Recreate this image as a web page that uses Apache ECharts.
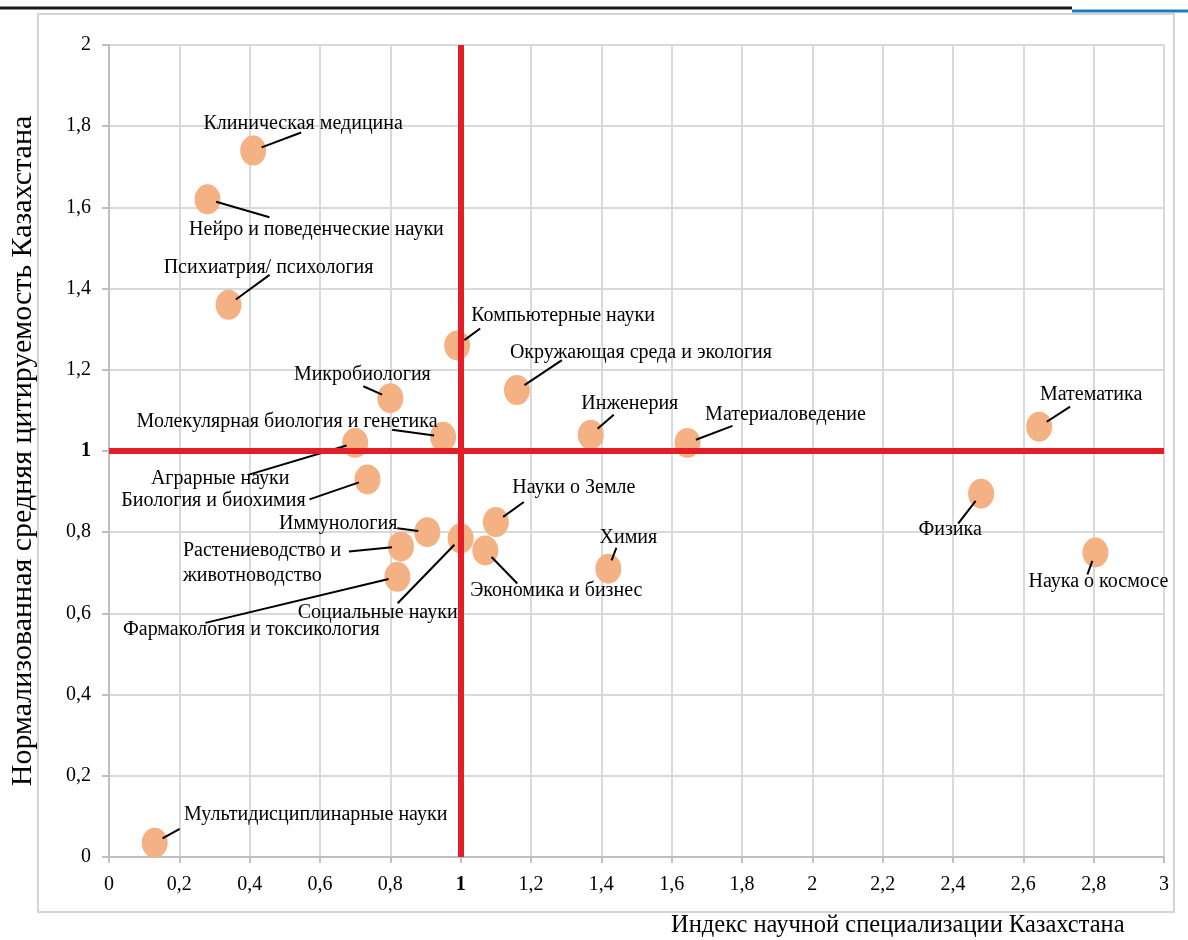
<!DOCTYPE html>
<html>
<head>
<meta charset="utf-8">
<script src="https://cdn.jsdelivr.net/npm/echarts@6/dist/echarts.min.js"></script>
<style>
html,body{margin:0;padding:0;background:#fff;}
#chart{width:1188px;height:940px;}
</style>
</head>
<body>
<div id="chart"></div>
<script>
const categories = [
  'Клиническая медицина',
  'Нейро и поведенческие науки',
  'Психиатрия/ психология',
  'Компьютерные науки',
  'Окружающая среда и экология',
  'Микробиология',
  'Молекулярная биология и генетика',
  'Аграрные науки',
  'Биология и биохимия',
  'Инженерия',
  'Материаловедение',
  'Математика',
  'Физика',
  'Наука о космосе',
  'Иммунология',
  'Растениеводство и\nживотноводство',
  'Фармакология и токсикология',
  'Социальные науки',
  'Науки о Земле',
  'Экономика и бизнес',
  'Химия',
  'Мультидисциплинарные науки'
];
const specializationIndex = [0.41, 0.28, 0.34, 0.99, 1.16, 0.80, 0.95, 0.70, 0.735, 1.37, 1.645, 2.645, 2.48, 2.805, 0.905, 0.83, 0.82, 1.0, 1.10, 1.07, 1.42, 0.13];
const normalizedCitation = [1.74, 1.62, 1.36, 1.26, 1.15, 1.13, 1.035, 1.02, 0.93, 1.04, 1.02, 1.06, 0.895, 0.75, 0.80, 0.765, 0.69, 0.785, 0.825, 0.755, 0.71, 0.035];
const referenceX = 1;
const referenceY = 1;

// layout only: pixel offsets from point centre to label anchor, and to leader-line end
const labelOffsets = [
  [50, -27], [109, 30], [40, -37], [106, -30], [124, -37], [-28, -23], [-156, -15],
  [-135, 36], [-154, 21], [39, -31], [98, -28], [52, -32], [-31, 36], [3, 29],
  [-89, -8], [-218, 17], [-146, 53], [-83, 74], [78, -34], [71, 40], [20, -31], [161, -28]
];
const labelAligns = ['center','center','center','center','center','center','center',
  'center','center','center','center','center','center','center',
  'center','left','center','center','center','center','center','center'];
const leaderEnds = [
  [48, -18], [62, 18], [41, -30], [23, -17], [45, -30], [-27, -12], [-51, -7],
  [-107, 32], [-58, 20], [23, -20], [45, -17], [31, -20], [-23, 30], [-8, 22],
  [-30, -4], [-52, 5], [-192, 46], [-63, 65], [28, -20], [32, 33], [8, -21], [25, -14]
];

const FONT = 'Liberation Serif';
const fmt = v => {
  if (Math.abs(v - 1) < 1e-9) return '{b|1}';
  return String(+v.toFixed(1)).replace('.', ',');
};
const points = categories.map((n, i) => ({name: n, value: [specializationIndex[i], normalizedCitation[i]]}));

const chart = echarts.init(document.getElementById('chart'), null, {renderer: 'canvas'});
chart.setOption({
  backgroundColor: '#ffffff',
  animation: false,
  grid: {left: 108, right: 24, top: 45, bottom: 83, containLabel: false},
  xAxis: {
    type: 'value', min: 0, max: 3, interval: 0.2,
    axisLine: {show: true, onZero: false, lineStyle: {color: '#BFBFBF', width: 2}},
    axisTick: {show: true, length: 6, inside: false, lineStyle: {color: '#BFBFBF', width: 2}},
    splitLine: {show: true, lineStyle: {color: '#D9D9D9', width: 2}},
    axisLabel: {
      formatter: fmt, margin: 18, color: '#000', fontFamily: FONT, fontSize: 20,
      rich: {b: {fontWeight: 'bold', fontFamily: FONT, fontSize: 20, color: '#000'}}
    }
  },
  yAxis: {
    type: 'value', min: 0, max: 2, interval: 0.2,
    name: 'Нормализованная средняя цитируемость Казахстана',
    nameLocation: 'middle', nameGap: 71, nameRotate: 90,
    nameTextStyle: {fontFamily: FONT, fontSize: 30, color: '#000'},
    axisLine: {show: true, onZero: false, lineStyle: {color: '#BFBFBF', width: 2}},
    axisTick: {show: true, length: 7, lineStyle: {color: '#BFBFBF', width: 2}},
    splitLine: {show: true, lineStyle: {color: '#D9D9D9', width: 2}},
    axisLabel: {
      formatter: fmt, margin: 18, color: '#000', fontFamily: FONT, fontSize: 20,
      rich: {b: {fontWeight: 'bold', fontFamily: FONT, fontSize: 20, color: '#000'}}
    }
  },
  graphic: [
    {type: 'rect', z: -1, shape: {x: 38, y: 14, width: 1136, height: 898},
     style: {fill: 'none', stroke: '#D4D4D4', lineWidth: 2}},
    {type: 'line', shape: {x1: 0, y1: 8, x2: 1072, y2: 8}, style: {stroke: '#1a1a1a', lineWidth: 3}},
    {type: 'line', shape: {x1: 1072, y1: 11, x2: 1188, y2: 11}, style: {stroke: '#1F7DBF', lineWidth: 3}},
    {type: 'text', left: 671, top: 913,
     style: {text: 'Индекс научной специализации Казахстана', font: '24.5px "Liberation Serif"', fill: '#000'}}
  ],
  series: [
    {
      type: 'scatter', z: 1, data: [], silent: true,
      markLine: {
        silent: true, symbol: 'none', animation: false,
        label: {show: false},
        lineStyle: {color: '#E41E26', width: 6, type: 'solid'},
        data: [{xAxis: referenceX}, {yAxis: referenceY}]
      }
    },
    {
      type: 'scatter', z: 3,
      symbol: 'path://M50,0A50,50,0,1,1,50,100A50,50,0,1,1,50,0Z',
      symbolSize: [26, 30],
      itemStyle: {color: '#F4B183', opacity: 1},
      emphasis: {disabled: true},
      data: points,
      label: {
        show: true, position: 'inside', formatter: '{b}', color: '#000',
        fontFamily: FONT, fontSize: 20, lineHeight: 25
      },
      labelLayout: function (p) {
        const o = labelOffsets[p.dataIndex];
        return {
          x: p.rect.x + p.rect.width / 2 + o[0],
          y: p.rect.y + p.rect.height / 2 + o[1],
          align: labelAligns[p.dataIndex], verticalAlign: 'middle'
        };
      }
    },
    {
      type: 'custom', z: 4, silent: true,
      data: points,
      renderItem: function (params, api) {
        const c = api.coord([api.value(0), api.value(1)]);
        const e = leaderEnds[params.dataIndex];
        const len = Math.sqrt(e[0] * e[0] + e[1] * e[1]);
        const s = 9 / len;
        return {
          type: 'line',
          shape: {x1: c[0] + e[0] * s, y1: c[1] + e[1] * s, x2: c[0] + e[0], y2: c[1] + e[1]},
          style: {stroke: '#000', lineWidth: 2}
        };
      }
    }
  ]
});
</script>
</body>
</html>
